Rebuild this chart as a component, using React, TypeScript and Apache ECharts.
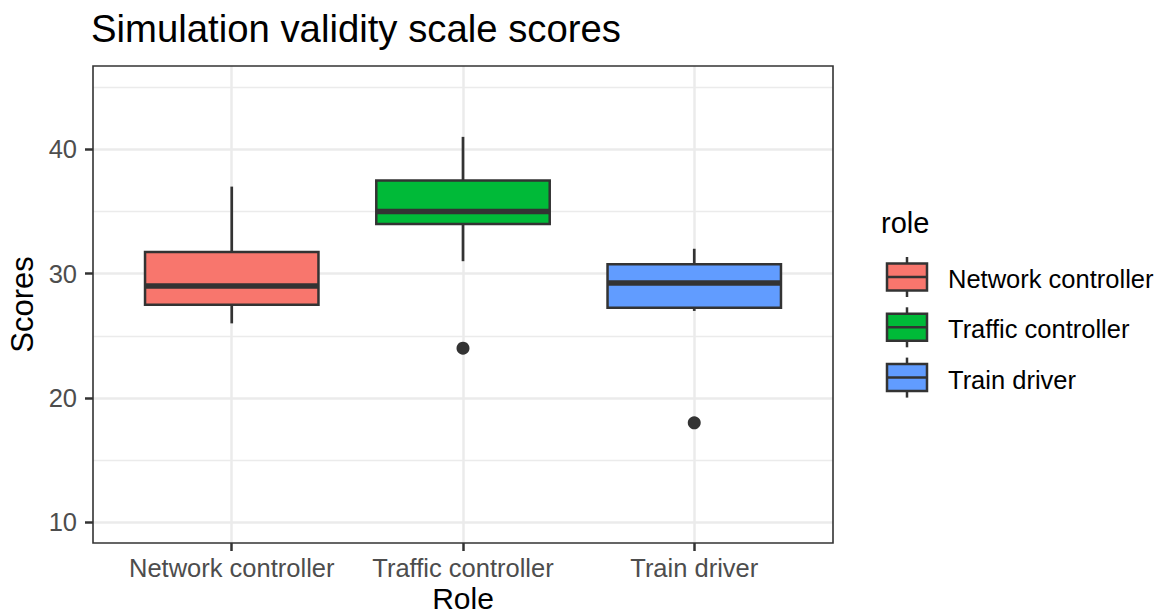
import React, { useEffect, useRef } from 'react';
import * as echarts from 'echarts';

const chartTitle = 'Simulation validity scale scores';
const xTitle = 'Role';
const yTitle = 'Scores';
const legendTitle = 'role';
const categories = ['Network controller', 'Traffic controller', 'Train driver'];
const whiskerLow = [26, 31, 27];
const q1 = [27.5, 34, 27.25];
const median = [29, 35, 29.25];
const q3 = [31.75, 37.5, 30.75];
const whiskerHigh = [37, 41, 32];
const outlierRole = ['Traffic controller', 'Train driver'];
const outlierValue = [24, 18];
const yTicks = [10, 20, 30, 40];
const fillColors = ['#F8766D', '#00BA38', '#619CFF'];

const W = 1157;
const H = 615;
const GL = 93;
const GT = 66;
const GW = 740;
const GH = 477;
const FONT = '"Liberation Sans", Arial, Helvetica, sans-serif';
const INK = '#333333';

export default function App() {
  const ref = useRef<HTMLDivElement>(null);
  useEffect(() => {
    document.body.style.margin = '0';
    if (!ref.current) return;
    const chart = echarts.init(ref.current, null, { renderer: 'svg' });

    const boxData = categories.map((c, i) => [i + 1, whiskerLow[i], q1[i], median[i], q3[i], whiskerHigh[i]]);
    const outData = outlierRole.map((r, k) => [categories.indexOf(r) + 1, outlierValue[k]]);

    const legendItems: any[] = [];
    categories.forEach((c, i) => {
      const cy = 277 + i * 50.3;
      const kx = 887;
      const kw = 40;
      legendItems.push(
        { type: 'line', shape: { x1: kx + kw / 2, y1: cy - 20, x2: kx + kw / 2, y2: cy + 20 }, style: { stroke: INK, lineWidth: 2.5 } },
        { type: 'rect', shape: { x: kx, y: cy - 13.5, width: kw, height: 27 }, style: { fill: fillColors[i], stroke: INK, lineWidth: 2.5 } },
        { type: 'line', shape: { x1: kx, y1: cy, x2: kx + kw, y2: cy }, style: { stroke: INK, lineWidth: 2.5 } },
        { type: 'text', x: 948, y: cy + 2, style: { text: c, font: `25.5px ${FONT}`, fill: '#000000', textAlign: 'left', textVerticalAlign: 'middle' } }
      );
    });

    const option: any = {
      animation: false,
      backgroundColor: '#ffffff',
      title: {
        text: chartTitle,
        left: 91,
        top: 9,
        padding: 0,
        textStyle: { fontFamily: FONT, fontSize: 38.3, fontWeight: 'normal', color: '#000000' },
      },
      grid: { left: GL, top: GT, width: GW, height: GH, show: false },
      xAxis: {
        type: 'value',
        min: 0.4,
        max: 3.6,
        axisLine: { show: false },
        axisTick: { show: true, customValues: [1, 2, 3], length: 8, lineStyle: { color: INK, width: 2.5 } },
        axisLabel: {
          customValues: [1, 2, 3],
          margin: 12,
          fontFamily: FONT,
          fontSize: 25.5,
          color: '#4D4D4D',
          formatter: (v: number) => categories[Math.round(v) - 1] || '',
        },
        splitLine: { show: true, lineStyle: { color: '#EBEBEB', width: 2.5 } },
        minorSplitLine: { show: false },
      },
      yAxis: {
        type: 'value',
        min: 8.335,
        max: 46.7,
        axisLine: { show: false },
        axisTick: { show: true, customValues: yTicks, length: 8, lineStyle: { color: INK, width: 2.5 } },
        axisLabel: { customValues: yTicks, margin: 16, fontFamily: FONT, fontSize: 25.5, color: '#4D4D4D' },
        splitLine: { show: true, lineStyle: { color: '#EBEBEB', width: 2.5 } },
        minorTick: { show: false, splitNumber: 2 },
        minorSplitLine: { show: true, lineStyle: { color: '#EBEBEB', width: 1.3 } },
      },
      graphic: [
        { type: 'rect', z: 100, shape: { x: GL, y: GT, width: GW, height: GH }, style: { fill: 'none', stroke: INK, lineWidth: 1.6 } },
        { type: 'text', x: 22.5, y: GT + GH / 2, rotation: Math.PI / 2, style: { text: yTitle, font: `31px ${FONT}`, fill: '#000000', textAlign: 'center', textVerticalAlign: 'middle' } },
        { type: 'text', x: GL + GW / 2, y: 598, style: { text: xTitle, font: `30px ${FONT}`, fill: '#000000', textAlign: 'center', textVerticalAlign: 'middle' } },
        { type: 'text', x: 881, y: 223, style: { text: legendTitle, font: `29px ${FONT}`, fill: '#000000', textAlign: 'left', textVerticalAlign: 'middle' } },
        ...legendItems,
      ],
      series: [
        {
          type: 'custom',
          data: boxData,
          encode: { x: 0, y: [1, 2, 3, 4, 5] },
          renderItem: (params: any, api: any) => {
            const i = params.dataIndex;
            const x = api.value(0);
            const w = api.size([0.75, 0])[0];
            const pLo = api.coord([x, api.value(1)]);
            const pQ1 = api.coord([x, api.value(2)]);
            const pMed = api.coord([x, api.value(3)]);
            const pQ3 = api.coord([x, api.value(4)]);
            const pHi = api.coord([x, api.value(5)]);
            const cx = pQ1[0];
            return {
              type: 'group',
              children: [
                { type: 'line', shape: { x1: cx, y1: pHi[1], x2: cx, y2: pQ3[1] }, style: { stroke: INK, lineWidth: 2.7 } },
                { type: 'line', shape: { x1: cx, y1: pQ1[1], x2: cx, y2: pLo[1] }, style: { stroke: INK, lineWidth: 2.7 } },
                { type: 'rect', shape: { x: cx - w / 2, y: pQ3[1], width: w, height: pQ1[1] - pQ3[1] }, style: { fill: fillColors[i], stroke: INK, lineWidth: 2.5 } },
                { type: 'line', shape: { x1: cx - w / 2, y1: pMed[1], x2: cx + w / 2, y2: pMed[1] }, style: { stroke: INK, lineWidth: 5.5 } },
              ],
            };
          },
        },
        {
          type: 'scatter',
          data: outData,
          symbol: 'circle',
          symbolSize: 13,
          itemStyle: { color: INK, opacity: 1 },
        },
      ],
    };
    chart.setOption(option);
    return () => chart.dispose();
  }, []);
  return <div ref={ref} style={{ width: W, height: H }} />;
}
